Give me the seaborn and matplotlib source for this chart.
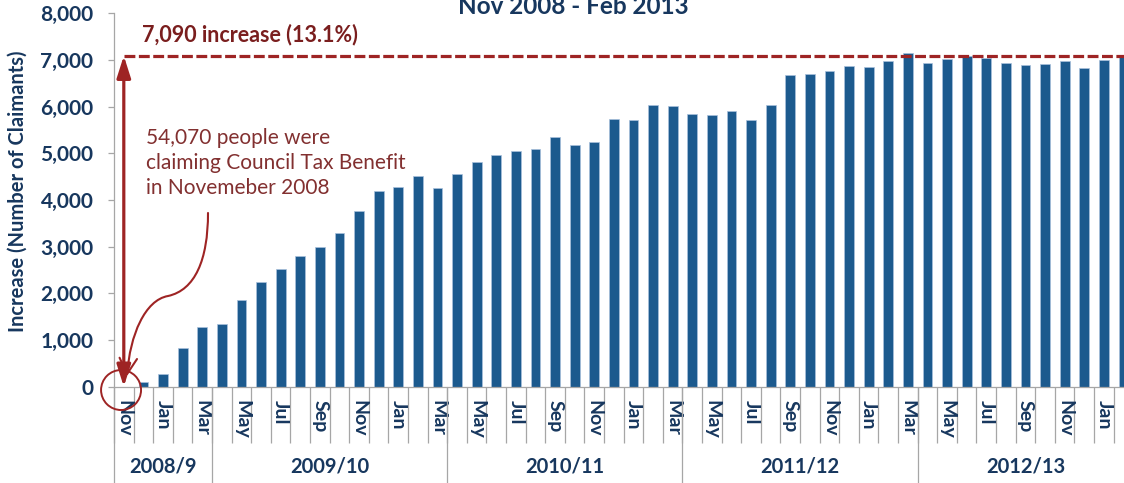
import numpy as np
import pandas as pd
import matplotlib
matplotlib.use("Agg")
import matplotlib.pyplot as plt
import matplotlib.transforms as mtransforms
from matplotlib.path import Path
from matplotlib.patches import FancyArrowPatch, Ellipse
import seaborn as sns

# ---------------- data ----------------
months = ["Nov", "Dec", "Jan", "Feb", "Mar",
          "Apr", "May", "Jun", "Jul", "Aug", "Sep", "Oct", "Nov", "Dec", "Jan", "Feb", "Mar",
          "Apr", "May", "Jun", "Jul", "Aug", "Sep", "Oct", "Nov", "Dec", "Jan", "Feb", "Mar",
          "Apr", "May", "Jun", "Jul", "Aug", "Sep", "Oct", "Nov", "Dec", "Jan", "Feb", "Mar",
          "Apr", "May", "Jun", "Jul", "Aug", "Sep", "Oct", "Nov", "Dec", "Jan", "Feb"]
fin_years = (["2008/9"] * 5 + ["2009/10"] * 12 + ["2010/11"] * 12 +
             ["2011/12"] * 12 + ["2012/13"] * 11)
increase = [0, 100, 265, 822, 1279,
            1336, 1864, 2243, 2522, 2793, 2993, 3286, 3757, 4186, 4272, 4522, 4250,
            4550, 4814, 4971, 5043, 5086, 5357, 5171, 5243, 5736, 5714, 6036, 6007,
            5850, 5829, 5900, 5714, 6029, 6686, 6707, 6771, 6864, 6843, 6979, 7143,
            6929, 7021, 7093, 7043, 6929, 6886, 6907, 6979, 6821, 7000, 7090]
total_increase = 7090
yticks = [0, 1000, 2000, 3000, 4000, 5000, 6000, 7000, 8000]
title_text = "Nov 2008 - Feb 2013"
ylabel_text = "Increase (Number of Claimants)"
headline = "7,090 increase (13.1%)"
note_lines = ["54,070 people were", "claiming Council Tax Benefit", "in Novemeber 2008"]

# ---------------- style ----------------
sns.set_style("white")
plt.rcParams["font.family"] = ["Lato", "DejaVu Sans"]

NAVY = "#17375E"
BAR = "#1C5A8E"
GREY = "#A6A6A6"
RED = "#9E2424"
DARKRED = "#7A1E1E"
NOTE = "#823030"

n = len(increase)
df = pd.DataFrame({"key": [f"{m}-{i}" for i, m in enumerate(months)],
                   "value": increase})

W_PX, H_PX = 1124, 483
fig = plt.figure(figsize=(W_PX / 100, H_PX / 100), dpi=100)
cat_px = 19.6
left_px, top_px, base_px = 114, 13.3, 386.7
ax = fig.add_axes([left_px / W_PX, (H_PX - base_px) / H_PX,
                   n * cat_px / W_PX, (base_px - top_px) / H_PX])

sns.barplot(data=df, x="key", y="value", color=BAR, saturation=1, width=0.5,
            edgecolor="#A9C1DC", linewidth=0.5, ax=ax)

ax.set_xlim(-0.5, n - 0.5)
ax.set_ylim(0, 8000)
ax.set_xlabel("")
ax.set_ylabel("")

for s in ["top", "right"]:
    ax.spines[s].set_visible(False)
for s in ["left", "bottom"]:
    ax.spines[s].set_color(GREY)
    ax.spines[s].set_linewidth(0.9)

# y axis
ax.set_yticks(yticks)
ax.set_yticklabels([f"{v:,}" for v in yticks])
ax.tick_params(axis="y", length=4.3, width=0.9, color=GREY, pad=10.5,
               labelcolor=NAVY, labelsize=15, left=True)
for lab in ax.get_yticklabels():
    lab.set_fontweight("bold")

# x axis: boundary ticks + month labels
ax.set_xticks(np.arange(n + 1) - 0.5)
ax.set_xticklabels([])
ax.tick_params(axis="x", which="major", length=40, width=0.9, color=GREY,
               direction="out", bottom=True)
lab_pos = list(range(0, n, 2))
ax.set_xticks(lab_pos, minor=True)
ax.set_xticklabels([months[i] for i in lab_pos], minor=True, rotation=270,
                   fontweight="bold", color=NAVY, fontsize=14)
ax.tick_params(axis="x", which="minor", length=0, pad=9.5)

# financial-year groups
trans = mtransforms.blended_transform_factory(ax.transData, ax.transAxes)
bounds = [-0.5] + [i - 0.5 for i in range(1, n) if fin_years[i] != fin_years[i - 1]] + [n - 0.5]
for b in bounds:
    ax.plot([b, b], [0, -0.35], transform=trans, clip_on=False, color=GREY, lw=0.9)
for a, b in zip(bounds[:-1], bounds[1:]):
    ax.text((a + b) / 2, -0.215, fin_years[int(a + 0.5)], transform=trans,
            ha="center", va="center", color=NAVY, fontsize=14.5, fontweight="bold")

# ---------------- annotations ----------------
ax.hlines(total_increase, 0, n - 0.5, colors=RED, lw=2.3,
          linestyles=(0, (3.4, 1.1)), zorder=4, clip_on=False)
ax.add_patch(FancyArrowPatch((0, 0), (0, total_increase),
                             arrowstyle="<|-|>,head_length=1.1,head_width=0.35",
                             mutation_scale=12, color=RED, lw=2.3,
                             shrinkA=0, shrinkB=0, zorder=5, clip_on=False))
ax.text(0.91, 7392, headline, color=DARKRED, fontsize=15.5, fontweight="bold",
        ha="left", va="baseline")
for line, yb in zip(note_lines, [5200, 4665, 4129]):
    ax.text(1.13, yb, line, color=NOTE, fontsize=15, ha="left", va="baseline")

verts = [(4.296, 3722), (4.296, 2715), (3.633, 2071), (2.255, 1943),
         (1.082, 1857), (0.316, 1108), (0.163, 229)]
codes = [Path.MOVETO] + [Path.CURVE4] * 6
ax.add_patch(FancyArrowPatch(path=Path(verts, codes),
                             arrowstyle="->,head_length=0.8,head_width=0.45",
                             mutation_scale=14, color=RED, lw=1.5,
                             zorder=5, clip_on=False))
ax.add_patch(Ellipse((-0.14, -71), 2.04, 857, fill=False, edgecolor=RED,
                     lw=1.4, clip_on=False, zorder=5))

fig.text(573 / W_PX, 1 - 14 / H_PX, title_text, ha="center", va="baseline",
         color=NAVY, fontsize=17.5, fontweight="bold")
fig.text(18 / W_PX, 1 - 191 / H_PX, ylabel_text, rotation=90, ha="center",
         va="center", color=NAVY, fontsize=14.5, fontweight="bold")

fig.savefig("out.png", dpi=100)
